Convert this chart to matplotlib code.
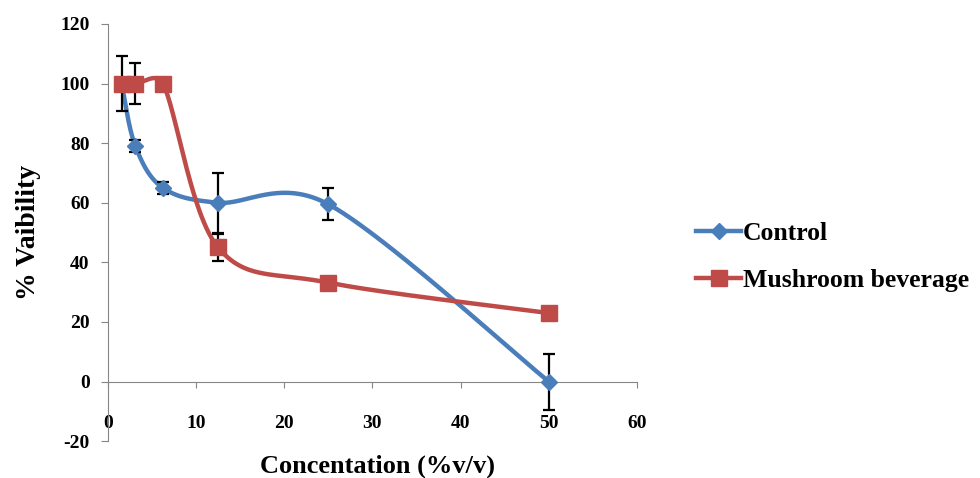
import numpy as np
import matplotlib
matplotlib.use("Agg")
import matplotlib.pyplot as plt
from matplotlib.lines import Line2D

conc = [1.5625, 3.125, 6.25, 12.5, 25, 50]
control = [100, 79, 65, 60, 59.5, 0]
control_err = [0, 2, 2, 10, 5.4, 9.4]
mushroom = [100, 100, 100, 45, 33.2, 23]
mushroom_err = [9.2, 7, 0, 4.5, 0, 0]

xticks = [0, 10, 20, 30, 40, 50, 60]
yticks = [-20, 0, 20, 40, 60, 80, 100, 120]

BLUE = "#4A7EBB"
RED = "#BE4B48"
FONT = "Liberation Serif"

plt.rcParams["font.family"] = FONT
plt.rcParams["font.weight"] = "bold"
plt.rcParams["axes.unicode_minus"] = False

fig = plt.figure(figsize=(9.8, 4.78), dpi=100)
ax = fig.add_axes([0.110, 0.077, 0.540, 0.873])
ax.set_xlim(0, 60)
ax.set_ylim(-20, 120)

W = 0.54 * 9.8
H = 0.873 * 4.78


def smooth(xs, ys, n=60):
    # Excel-like smoothed line: Bezier with tension 1/6, limited to half the segment length
    xs = np.asarray(xs, float)
    ys = np.asarray(ys, float)
    P = np.column_stack([xs / 60.0 * W, (ys + 20) / 140.0 * H])
    m = len(P)
    out = []
    for i in range(m - 1):
        p0 = P[i - 1] if i > 0 else P[i]
        p1, p2 = P[i], P[i + 1]
        p3 = P[i + 2] if i + 2 < m else P[i + 1]
        d12 = np.linalg.norm(p2 - p1)
        v1 = p2 - p0
        v2 = p3 - p1
        n1 = np.linalg.norm(v1)
        n2 = np.linalg.norm(v2)
        f1 = min(1 / 6.0, 0.5 * d12 / n1) if n1 > 0 else 0
        f2 = min(1 / 6.0, 0.5 * d12 / n2) if n2 > 0 else 0
        c1 = p1 + f1 * v1
        c2 = p2 - f2 * v2
        t = np.linspace(0, 1, n)[:, None]
        seg = ((1 - t) ** 3) * p1 + 3 * ((1 - t) ** 2) * t * c1 + 3 * (1 - t) * t ** 2 * c2 + t ** 3 * p2
        out.append(seg if i == 0 else seg[1:])
    S = np.vstack(out)
    return S[:, 0] / W * 60.0, S[:, 1] / H * 140.0 - 20


cx, cy = smooth(conc, control)
mx, my = smooth(conc, mushroom)

ax.plot(cx, cy, color=BLUE, lw=3.2, zorder=3, solid_capstyle="round")
ax.plot(mx, my, color=RED, lw=3.2, zorder=3, solid_capstyle="round")

ax.errorbar(conc, control, yerr=control_err, fmt="none", ecolor="black",
            elinewidth=1.6, capsize=4, capthick=1.6, zorder=4)
ax.errorbar(conc, mushroom, yerr=mushroom_err, fmt="none", ecolor="black",
            elinewidth=1.6, capsize=4, capthick=1.6, zorder=4)

ax.plot(conc, control, ls="none", marker="D", ms=8.5, color=BLUE, zorder=5)
ax.plot(conc, mushroom, ls="none", marker="s", ms=12, color=RED, zorder=6)

for s in ["top", "right"]:
    ax.spines[s].set_visible(False)
ax.spines["bottom"].set_position(("data", 0))
ax.spines["bottom"].set_color("#868686")
ax.spines["left"].set_color("#868686")

ax.set_xticks(xticks)
ax.set_yticks(yticks)
ax.tick_params(axis="x", direction="out", length=4, color="#868686", pad=20, labelsize=14)
ax.tick_params(axis="y", direction="out", length=5, color="#868686", pad=8, labelsize=14)
for lab in ax.get_xticklabels() + ax.get_yticklabels():
    lab.set_fontweight("bold")

ax.set_ylabel("% Vaibility", fontsize=20, fontweight="bold", labelpad=14)
fig.text(0.385, 0.025, "Concentation (%v/v)", ha="center", va="center",
         fontsize=19, fontweight="bold")

handles = [
    Line2D([], [], color=BLUE, lw=3.2, marker="D", ms=8.5, label="Control"),
    Line2D([], [], color=RED, lw=3.2, marker="s", ms=12, label="Mushroom beverage"),
]
fig.legend(handles=handles, loc="center left", bbox_to_anchor=(0.700, 0.462),
           frameon=False, prop={"family": FONT, "weight": "bold", "size": 18.5},
           handlelength=1.75, handletextpad=0.05, labelspacing=0.95, borderaxespad=0)

fig.savefig("out.png", dpi=100)
